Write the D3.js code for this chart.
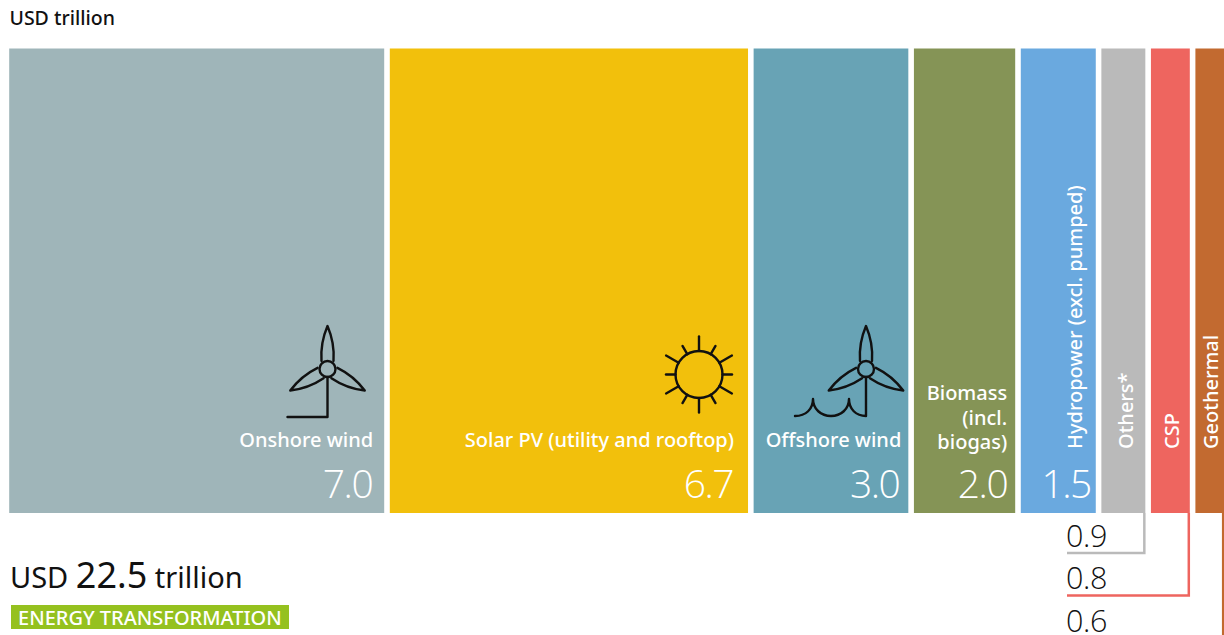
<!DOCTYPE html>
<html><head><meta charset="utf-8">
<script src="https://cdn.jsdelivr.net/npm/d3@7"></script>
<style>
html,body{margin:0;padding:0;background:#fff}
svg{display:block}
text{font-family:"Noto Sans","Open Sans",sans-serif}
text.num{font-family:"Open Sans",sans-serif;font-weight:350}
</style></head><body>
<svg id="chart" width="1224" height="635"></svg>
<script>
// Investment by technology, USD trillion
const technologies = ["Onshore wind","Solar PV (utility and rooftop)","Offshore wind","Biomass","Hydropower (excl. pumped)","Others*","CSP","Geothermal"];
const investment = [7.0,6.7,3.0,2.0,1.5,0.9,0.8,0.6];
const colours = ["#9fb5b9","#f2c00c","#68a3b5","#859456","#6aa9df","#bababa","#ee655f","#c26a30"];
const biomassLines = ["Biomass","(incl.","biogas)"];
const totalValue = "22.5";
const unitLabel = "USD trillion";
const scenarioLabel = "ENERGY TRANSFORMATION";

const gap = 5.6, x0 = 9.2, barTop = 48.5, barBottom = 513, labelSize = 20;
const svg = d3.select("#chart");

// Slightly super-linear width scale; the narrow columns still have to hold a rotated label
const colWidth = d3.scalePow().exponent(1.045).domain([0,7]).range([0,375]);
let cursor = x0;
const cols = investment.map((v,i)=>{
  const w = colWidth(v), c = {name:technologies[i],value:v,colour:colours[i],x:cursor,w};
  cursor += w + gap; return c;
});

svg.append("text").attr("x",9.5).attr("y",25).attr("font-size",19.5).attr("font-weight",500).attr("fill","#111").text(unitLabel);

svg.selectAll("rect.col").data(cols).join("rect").attr("class","col")
  .attr("x",d=>d.x).attr("y",barTop).attr("width",d=>d.w).attr("height",barBottom-barTop).attr("fill",d=>d.colour);

// Values inside the five widest columns
svg.selectAll("text.val").data(cols.slice(0,5)).join("text").attr("class","val num")
  .attr("x",(d,i)=>d.x+d.w-[12,15,9,8,5][i]).attr("y",497.5).attr("text-anchor","end")
  .attr("font-size",39).attr("letter-spacing",-1.5).attr("fill","#fff").text(d=>d.value.toFixed(1));

// Horizontal labels
cols.slice(0,3).forEach((d,i)=>{
  svg.append("text").attr("x",d.x+d.w-[11,14,7][i]).attr("y",447).attr("text-anchor","end")
    .attr("font-size",labelSize).attr("font-weight",500).attr("fill","#fff").text(d.name);
});
biomassLines.forEach((t,i)=>{
  svg.append("text").attr("x",cols[3].x+cols[3].w-8).attr("y",400+i*24.5).attr("text-anchor","end")
    .attr("font-size",labelSize).attr("font-weight",500).attr("fill","#fff").text(t);
});
// Rotated labels on the narrow columns
cols.slice(4).forEach((d,i)=>{
  svg.append("text").attr("transform",`translate(${d.x+d.w-[14,12,11,6][i]},449) rotate(-90)`)
    .attr("font-size",labelSize).attr("font-weight",500).attr("fill","#fff").text(d.name);
});

// Leader lines from the narrow columns to their values, and the values themselves
const leaders = [{i:5,y:553,c:"#bababa"},{i:6,y:595.5,c:"#ee655f"},{i:7,y:640,c:"#c26a30"}];
const valueBaselines = [546.7,589,631.5];
leaders.forEach((l,k)=>{
  const d = cols[l.i], xr = d.x+d.w-1;
  svg.append("path").attr("d",`M${xr},${barBottom}V${l.y}H1067`).attr("fill","none").attr("stroke",l.c).attr("stroke-width",2.5);
  svg.append("text").attr("class","num").attr("x",1066).attr("y",valueBaselines[k]).attr("font-size",30.5).attr("letter-spacing",-0.3).attr("fill","#111").text(d.value.toFixed(1));
});

// Pictograms
const ink = {fill:"none",stroke:"#111","stroke-width":2.4,"stroke-linejoin":"round","stroke-linecap":"round"};
function styled(g){Object.entries(ink).forEach(([k,v])=>g.attr(k,v));return g;}
function turbine(g){
  // one blade pointing up from the hub, repeated at 120 degree steps
  [0,120,240].forEach(a=>g.append("path").attr("transform",`rotate(${a})`)
    .attr("d","M-6,-8C-7,-22 -3,-36 0,-43C3,-36 7,-22 6,-8"));
  g.append("circle").attr("r",8);
}
const tOn = styled(svg.append("g").attr("transform","translate(327.5,369)"));
turbine(tOn);
tOn.append("path").attr("d","M0,8V48H-40");
const tOff = styled(svg.append("g").attr("transform","translate(866,369)"));
turbine(tOff);
tOff.append("path").attr("d","M0,8V47C-10,47 -17,40 -17,30C-17,40 -25,47 -35,47C-45,47 -53,40 -53,30C-53,40 -60,47 -71,47");
const sun = styled(svg.append("g").attr("transform","translate(699,374.5)"));
sun.append("circle").attr("r",23.5);
d3.range(12).forEach(i=>{
  sun.append("line").attr("transform",`rotate(${i*30})`).attr("y1",-23.5).attr("y2",i%2===0?-38:-33);
});

// Total and scenario tag
const total = svg.append("text").attr("x",10).attr("y",588).attr("fill","#111").attr("font-size",29);
total.append("tspan").text("USD ");
total.append("tspan").attr("font-size",36).text(totalValue);
total.append("tspan").text(" trillion");
svg.append("rect").attr("x",11).attr("y",605).attr("width",278).attr("height",24).attr("fill","#95c11f");
svg.append("text").attr("x",18).attr("y",624.5).attr("font-size",20).attr("font-weight",500).attr("fill","#fff").text(scenarioLabel);
</script></body></html>
